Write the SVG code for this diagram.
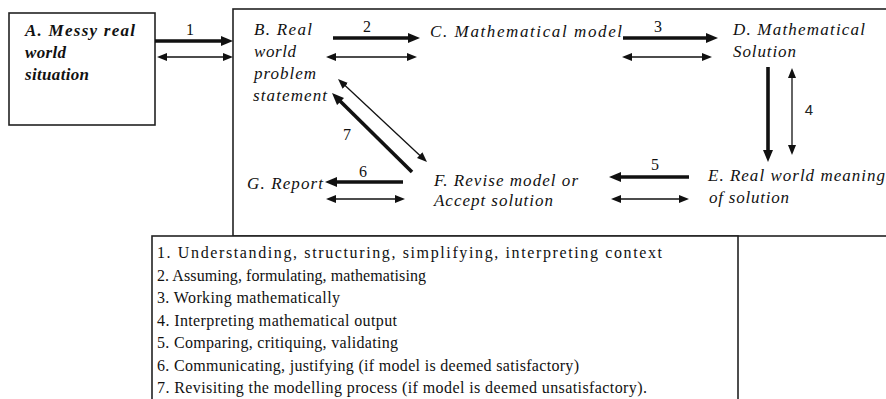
<svg xmlns="http://www.w3.org/2000/svg" width="886" height="399" viewBox="0 0 886 399">
<style>
.box{fill:#fff;stroke:#222;stroke-width:1.6}
text{font-family:'Liberation Serif','Times New Roman',Times,'DejaVu Serif',serif;font-size:16px;fill:#111}
.t{font-style:italic;font-size:17px}
.tb{font-style:italic;font-weight:bold;font-size:17px}
.lab{text-anchor:middle}
.labs{font-family:'Liberation Sans',Arial,sans-serif;font-size:15px;fill:#222;text-anchor:middle}
.thick{fill:none;stroke:#111;stroke-width:3.6;marker-end:url(#hb)}
.thin{fill:none;stroke:#111;stroke-width:1.3;marker-start:url(#ht);marker-end:url(#ht)}
</style>
<defs>
<marker id="hb" viewBox="0 0 12 10" refX="5" refY="5" markerWidth="12" markerHeight="10" markerUnits="userSpaceOnUse" orient="auto"><path d="M0,0 L12,5 L0,10 z" fill="#111"/></marker>
<marker id="ht" viewBox="0 0 10 8" refX="4" refY="4" markerWidth="10" markerHeight="8" markerUnits="userSpaceOnUse" orient="auto-start-reverse"><path d="M0,0 L10,4 L0,8 z" fill="#111"/></marker>
</defs>
<rect width="886" height="399" fill="#fff"/>
<rect id="frame" class="box" x="233" y="9" width="670" height="227"/>
<g id="legend">
<rect class="box" x="152" y="236" width="586" height="180"/>
<text x="157" y="258" textLength="505" lengthAdjust="spacing">1. Understanding, structuring, simplifying, interpreting context</text>
<text x="157" y="281" textLength="269" lengthAdjust="spacing">2. Assuming, formulating, mathematising</text>
<text x="157" y="303" textLength="183" lengthAdjust="spacing">3. Working mathematically</text>
<text x="157" y="326" textLength="240" lengthAdjust="spacing">4. Interpreting mathematical output</text>
<text x="157" y="348" textLength="241" lengthAdjust="spacing">5. Comparing, critiquing, validating</text>
<text x="157" y="371" textLength="422" lengthAdjust="spacing">6. Communicating, justifying (if model is deemed satisfactory)</text>
<text x="157" y="393" textLength="490" lengthAdjust="spacing">7. Revisiting the modelling process (if model is deemed unsatisfactory).</text>
</g>
<g id="nodeA">
<rect class="box" x="9" y="13" width="146" height="112"/>
<text class="tb" x="25" y="36" textLength="110" lengthAdjust="spacing">A. Messy real</text>
<text class="tb" x="25" y="58" textLength="41" lengthAdjust="spacing">world</text>
<text class="tb" x="25" y="80" textLength="64" lengthAdjust="spacing">situation</text>
</g>
<g id="nodeB">
<text class="t" x="254" y="35" textLength="58" lengthAdjust="spacing">B. Real</text>
<text class="t" x="254" y="57" textLength="42" lengthAdjust="spacing">world</text>
<text class="t" x="254" y="79" textLength="62" lengthAdjust="spacing">problem</text>
<text class="t" x="253" y="101" textLength="74" lengthAdjust="spacing">statement</text>
</g>
<g id="nodeC">
<text class="t" x="430" y="37" textLength="192" lengthAdjust="spacing">C. Mathematical model</text>
</g>
<g id="nodeD">
<text class="t" x="733" y="35" textLength="132" lengthAdjust="spacing">D. Mathematical</text>
<text class="t" x="733" y="57" textLength="63" lengthAdjust="spacing">Solution</text>
</g>
<g id="nodeE">
<text class="t" x="708" y="181" textLength="177" lengthAdjust="spacing">E. Real world meaning</text>
<text class="t" x="709" y="203" textLength="80" lengthAdjust="spacing">of solution</text>
</g>
<g id="nodeF">
<text class="t" x="434" y="186" textLength="144" lengthAdjust="spacing">F. Revise model or</text>
<text class="t" x="434" y="206" textLength="119" lengthAdjust="spacing">Accept solution</text>
</g>
<g id="nodeG">
<text class="t" x="247" y="189" textLength="76" lengthAdjust="spacing">G. Report</text>
</g>
<g id="connectors">
<path class="thick" d="M155,41 H226"/>
<path class="thin" d="M163,57 H227"/>
<path class="thick" d="M333,38 H413"/>
<path class="thin" d="M332,57 H411"/>
<path class="thick" d="M623,38 H711"/>
<path class="thin" d="M628,57 H706"/>
<path class="thick" d="M768,67 V155"/>
<path class="thin" d="M792,74 V149"/>
<path class="thick" d="M689,177 H616"/>
<path class="thin" d="M617,199 H683"/>
<path class="thick" d="M403,182 H332"/>
<path class="thin" d="M332,199 H399"/>
<path class="thick" d="M412,172 L337,98"/>
<path class="thin" d="M342.4,83.1 L422.6,157.9"/>
<text class="lab" x="190" y="35">1</text>
<text class="lab" x="367" y="32">2</text>
<text class="lab" x="658" y="32">3</text>
<text class="labs" x="809" y="115">4</text>
<text class="lab" x="655" y="170">5</text>
<text class="lab" x="363" y="177">6</text>
<text class="lab" x="347" y="140">7</text>
</g>
</svg>
